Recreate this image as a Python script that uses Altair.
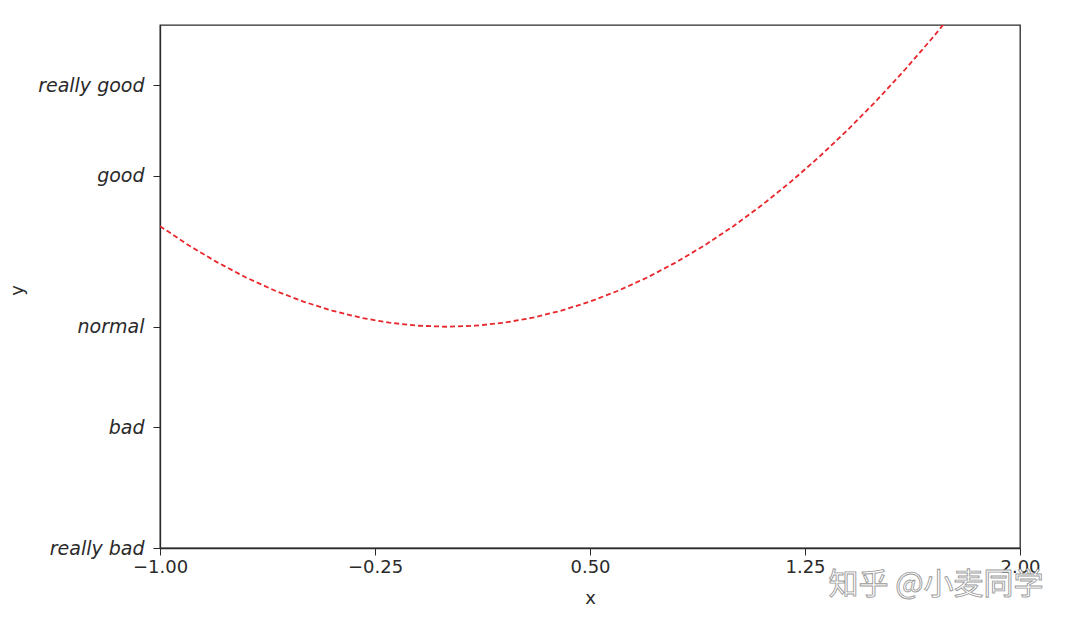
import altair as alt
import pandas as pd

# curve points
xs = [-1.0, -0.9, -0.8, -0.7, -0.6, -0.5, -0.4, -0.3, -0.2, -0.1, 0.0,
      0.1, 0.2, 0.3, 0.4, 0.5, 0.6, 0.7, 0.8, 0.9, 1.0, 1.1, 1.2, 1.3,
      1.4, 1.5, 1.6, 1.7, 1.8]
ys = [1.0, 0.81, 0.64, 0.49, 0.36, 0.25, 0.16, 0.09, 0.04, 0.01, 0.0,
      0.01, 0.04, 0.09, 0.16, 0.25, 0.36, 0.49, 0.64, 0.81, 1.0, 1.21, 1.44, 1.69,
      1.96, 2.25, 2.56, 2.89, 3.24]

x_ticks = [-1.0, -0.25, 0.5, 1.25, 2.0]
y_ticks = [-2.2, -1.0, 0.0, 1.5, 2.4]
y_labels = ["really bad", "bad", "normal", "good", "really good"]
watermark = ["知乎 @小麦同学"]

df = pd.DataFrame({"x": xs, "y": ys})

label_expr = " : ".join(
    f"datum.value == {v} ? '{l}'" for v, l in zip(y_ticks, y_labels)
) + " : ''"

FONT = "DejaVu Sans"
INK = "#2a2a2a"

line = alt.Chart(df).mark_line(
    color="#e8262b", strokeWidth=1.8, strokeDash=[5, 3], clip=True
).encode(
    x=alt.X("x:Q", scale=alt.Scale(domain=[-1, 2], nice=False, zero=False),
            axis=alt.Axis(values=x_ticks, format=".2f", title="x", grid=False,
                          tickSize=7, labelPadding=3, labelFontSize=18,
                          labelFont=FONT, titleFont=FONT, titleFontSize=18,
                          titleFontWeight="normal", titleY=50,
                          titleBaseline="middle",
                          labelColor=INK, titleColor=INK,
                          tickColor=INK, domainColor=INK, domainWidth=1.3,
                          labelFlush=False, labelOverlap=False)),
    y=alt.Y("y:Q", scale=alt.Scale(domain=[-2.2, 3], nice=False, zero=False),
            axis=alt.Axis(values=y_ticks, labelExpr=label_expr, title="y",
                          grid=False, tickSize=7, labelPadding=9,
                          labelFontSize=19, labelFontStyle="italic",
                          labelFont=FONT, titleFont=FONT, titleFontSize=18,
                          titleFontWeight="normal", titleAngle=270,
                          titleX=-143, titleY=265, titleAlign="center",
                          titleBaseline="middle",
                          labelColor=INK, titleColor=INK,
                          tickColor=INK, domainColor=INK, domainWidth=1.3,
                          labelFlush=False, labelOverlap=False)),
)

wm = alt.Chart(pd.DataFrame({"t": watermark})).mark_text(
    font="Noto Sans CJK SC", fontSize=30, fill="white", stroke="#9a9a9a",
    strokeWidth=0.9, align="center", baseline="middle", clip=False
).encode(
    text="t:N", x=alt.value(776), y=alt.value(560)
)

chart = alt.layer(line, wm).properties(
    width=860, height=523,
    autosize=alt.AutoSizeParams(type="none"),
    padding={"left": 152, "top": 17, "right": 50, "bottom": 70},
).configure(
    background="white",
    view=alt.ViewConfig(stroke=INK, strokeWidth=1.3),
)

chart.save("out.html", embed_options={"renderer": "svg", "actions": False})
